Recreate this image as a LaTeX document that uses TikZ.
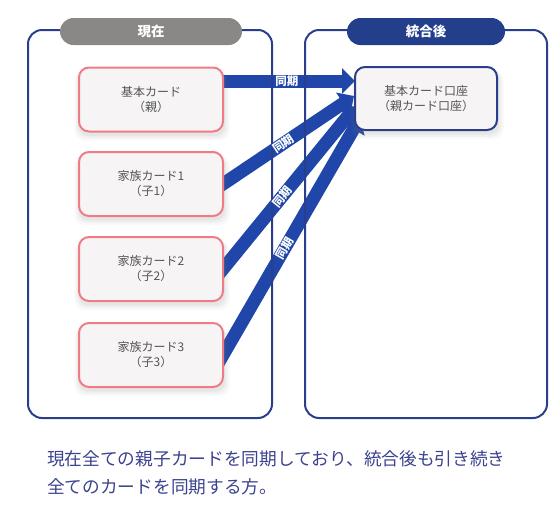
\documentclass[tikz,border=0pt]{standalone}
\usepackage{fontspec}
\setmainfont{Noto Sans CJK JP}
\usetikzlibrary{arrows.meta,shadows,calc}
\definecolor{navy}{HTML}{2A3F8C}
\definecolor{pillnavy}{HTML}{233E8B}
\definecolor{pillgray}{HTML}{8A8886}
\definecolor{arrowblue}{HTML}{1F46A8}
\definecolor{cardpink}{HTML}{EF7B86}
\definecolor{cardfill}{HTML}{F6F4F5}
\definecolor{cardtext}{HTML}{555555}
\definecolor{notetext}{HTML}{3C428E}
\tikzset{
  outerbox/.style={draw=navy, line width=2pt, rounded corners=14pt},
  pill/.style={rounded corners=13.5pt, text=white, inner sep=0pt, minimum height=27pt,
    font=\bfseries\fontsize{13.5}{14}\selectfont},
  softshadow/.style={
    drop shadow={opacity=0.05, shadow xshift=1pt, shadow yshift=-6pt, shadow scale=1.08},
    drop shadow={opacity=0.07, shadow xshift=1pt, shadow yshift=-5pt, shadow scale=1.05},
    drop shadow={opacity=0.09, shadow xshift=1pt, shadow yshift=-4pt, shadow scale=1.02}},
  card/.style={draw=cardpink, line width=2pt, fill=cardfill, rounded corners=10pt,
    minimum width=144pt, minimum height=64pt, align=center, text=cardtext,
    font=\fontsize{12}{15}\selectfont, softshadow},
  maincard/.style={card, draw=navy, minimum width=142pt, minimum height=63pt},
  syncarrow/.style={draw=arrowblue, line width=13pt, -{Triangle[length=13pt,width=25pt]}},
  synclabel/.style={text=white, sloped, inner sep=0pt, font=\bfseries\fontsize{11.5}{12}\selectfont},
}
\begin{document}
\begin{tikzpicture}[x=1pt, y=-1pt]
\useasboundingbox (0,0) rectangle (560,504);
% arrow tips
\coordinate (t1) at (355,81);
\coordinate (t2) at (354,96);
\coordinate (t3) at (356,106);
\coordinate (t4) at (360,118);
% card positions
\path (151,99.5) coordinate (p1) (151,184) coordinate (p2) (151,269) coordinate (p3) (151,355) coordinate (p4);
\coordinate (e1) at (223,99.5);
\coordinate (e2) at (223,184);
\coordinate (e3) at (223,269);
\coordinate (e4) at (223,355);
% arrows
\draw[syncarrow] ($(e1 |- t1)+(-10,0)$) coordinate (s1) -- (t1);
\draw[syncarrow] ($(t2)!1.08!(e2)$) coordinate (s2) -- (t2);
\draw[syncarrow] ($(t3)!1.08!(e3)$) coordinate (s3) -- (t3);
\draw[syncarrow] ($(t4)!1.08!(e4)$) coordinate (s4) -- (t4);
% outer boxes
\draw[outerbox] (28,30) rectangle (272,418);
\draw[outerbox] (305,30) rectangle (547,418);
% pills
\node[pill, fill=pillgray, minimum width=182pt] (lpill) at (151,31.5) {現在};
\node[pill, fill=pillnavy, minimum width=158pt] (rpill) at (426,31.5) {統合後};
% cards
\node[card] (c1) at (p1) {基本カード\\（親）};
\node[card] (c2) at (p2) {家族カード1\\（子1）};
\node[card] (c3) at (p3) {家族カード2\\（子2）};
\node[card] (c4) at (p4) {家族カード3\\（子3）};
\node[maincard] (rc) at (426,98.5) {基本カード口座\\（親カード口座）};
% labels
\path (s1) -- (t1) node[synclabel, pos=0.52] (l1) {同期};
\path (s2) -- (t2) node[synclabel, pos=0.50] (l2) {同期};
\path (s3) -- (t3) node[synclabel, pos=0.485] (l3) {同期};
\path (s4) -- (t4) node[synclabel, pos=0.49] (l4) {同期};
% note
\node[anchor=west, align=left, inner sep=0pt, text=notetext,
  font=\fontsize{17.7}{28}\selectfont] (note) at (47,473)
  {現在全ての親子カードを同期しており、統合後も引き続き\\全てのカードを同期する方。};
\end{tikzpicture}
\end{document}
